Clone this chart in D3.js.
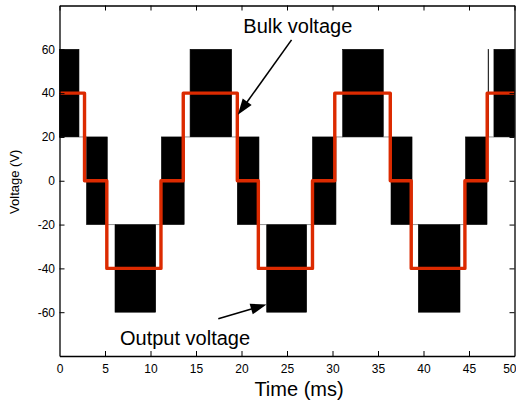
<!DOCTYPE html>
<html>
<head>
<meta charset="utf-8">
<script src="https://cdn.jsdelivr.net/npm/d3@7"></script>
<style>
  html, body { margin: 0; padding: 0; background: #fff; }
  svg { display: block; }
  text { font-family: "Liberation Sans", Arial, Helvetica, sans-serif; fill: #000; }
</style>
</head>
<body>
<svg id="chart" width="516" height="404"></svg>
<script>
// Output voltage envelope: each segment spans [start, end] ms and swings between low and high (V).
// Segments where low == high are the flat stretches between switching bursts.
const outputStart = [0, 2.14, 2.97, 5.25, 6.1, 10.57, 11.2, 13.7, 14.35, 18.92, 19.54, 21.92, 22.77, 27.16, 27.8, 30.38, 31.12, 35.58, 36.43, 38.74, 39.43, 44.01, 44.62, 46.98, 47.1, 47.16, 47.74];
const outputEnd   = [2.14, 2.97, 5.25, 6.1, 10.57, 11.2, 13.7, 14.35, 18.92, 19.54, 21.92, 22.77, 27.16, 27.8, 30.38, 31.12, 35.58, 36.43, 38.74, 39.43, 44.01, 44.62, 46.98, 47.1, 47.16, 47.74, 50];
const outputLow   = [20, 20, -20, -20, -60, -20, -20, 20, 20, 20, -20, -20, -60, -20, -20, 20, 20, 20, -20, -20, -60, -20, -20, 20, 20, 20, 20];
const outputHigh  = [60, 20, 20, -20, -20, -20, 20, 20, 60, 20, 20, -20, -20, -20, 20, 20, 60, 20, 20, -20, -20, -20, 20, 20, 60, 20, 60];

// Bulk voltage: step levels (V) holding from each switch time (ms) to the next.
const bulkTimes  = [0, 2.75, 5.2, 11.15, 13.6, 19.54, 21.85, 27.8, 30.25, 36.35, 38.65, 44.55, 47.0, 50];
const bulkLevels = [40, 0, -40, 0, 40, 0, -40, 0, 40, 0, -40, 0, 40, 40];

// Axis ticks
const timeTicks = [0, 5, 10, 15, 20, 25, 30, 35, 40, 45, 50];
const voltTicks = [-60, -40, -20, 0, 20, 40, 60];

// Annotations: label position and arrow (from -> tip) in data units
const annoText  = ["Bulk voltage", "Output voltage"];
const annoTextT = [20.2, 6.65];
const annoTextV = [67.6, -74.8];
const arrowFromT = [25.5, 17.45];
const arrowFromV = [64.3, -63.0];
const arrowTipT  = [19.6, 22.75];
const arrowTipV  = [30.1, -56.5];

const svg = d3.select("#chart");
const plot = { left: 59.5, right: 514.5, top: 5.5, bottom: 356 };

const x = d3.scaleLinear().domain([0, 50]).range([plot.left, plot.right]);
const y = d3.scaleLinear().domain([-80, 80]).range([plot.bottom, plot.top]);

const segments = outputStart.map((s, i) => ({
  start: s, end: outputEnd[i], low: outputLow[i], high: outputHigh[i]
}));

// Switching bursts
svg.append("g")
  .selectAll("rect")
  .data(segments.filter(d => d.high > d.low))
  .join("rect")
  .attr("x", d => x(d.start))
  .attr("width", d => x(d.end) - x(d.start))
  .attr("y", d => y(d.high))
  .attr("height", d => y(d.low) - y(d.high))
  .attr("fill", "#000")
  .attr("stroke", "#000")
  .attr("stroke-width", 0.6);

// Flat stretches between bursts
svg.append("g")
  .selectAll("line")
  .data(segments.filter(d => d.high === d.low))
  .join("line")
  .attr("x1", d => x(d.start))
  .attr("x2", d => x(d.end))
  .attr("y1", d => y(d.low))
  .attr("y2", d => y(d.low))
  .attr("stroke", "#777")
  .attr("stroke-width", 0.8);

// Bulk voltage step line
const bulk = bulkTimes.map((t, i) => [t, bulkLevels[i]]);
svg.append("path")
  .datum(bulk)
  .attr("fill", "none")
  .attr("stroke", "#dc2a00")
  .attr("stroke-width", 3.4)
  .attr("stroke-linejoin", "round")
  .attr("d", d3.line().x(d => x(d[0])).y(d => y(d[1])).curve(d3.curveStepAfter));

// Axes: ticks point inward on all four sides; plain hyphen for negatives
const fontSize = "12px";
const plain = d => String(d);
const gBottom = svg.append("g")
  .attr("transform", `translate(0,${plot.bottom})`)
  .call(d3.axisBottom(x).tickValues(timeTicks).tickSize(-5).tickSizeOuter(0).tickPadding(8).tickFormat(plain));
const gTop = svg.append("g")
  .attr("transform", `translate(0,${plot.top})`)
  .call(d3.axisTop(x).tickValues(timeTicks).tickSize(-5).tickSizeOuter(0).tickFormat(""));
const gLeft = svg.append("g")
  .attr("transform", `translate(${plot.left},0)`)
  .call(d3.axisLeft(y).tickValues(voltTicks).tickSize(-5).tickSizeOuter(0).tickPadding(4.5).tickFormat(plain));
const gRight = svg.append("g")
  .attr("transform", `translate(${plot.right},0)`)
  .call(d3.axisRight(y).tickValues(voltTicks).tickSize(-5).tickSizeOuter(0).tickFormat(""));

[gBottom, gTop, gLeft, gRight].forEach(g => {
  g.attr("font-family", null).attr("font-size", fontSize);
  g.select(".domain").attr("stroke", "#000").attr("stroke-width", 1.3);
  g.selectAll(".tick line").attr("stroke", "#000").attr("stroke-width", 1);
  g.selectAll(".tick text").attr("fill", "#000");
});
gBottom.selectAll(".tick").filter(d => d === 0 || d === 50).select("line").remove();
// Keep the last time label inside the frame edge
gBottom.selectAll(".tick").filter(d => d === 50).select("text")
  .attr("text-anchor", "end")
  .attr("x", 516 - plot.right);

// Axis titles
svg.append("text")
  .attr("x", 299)
  .attr("y", 396)
  .attr("text-anchor", "middle")
  .attr("font-size", "20px")
  .text("Time (ms)");

svg.append("text")
  .attr("transform", `translate(18.5,${(plot.top + plot.bottom) / 2 + 1}) rotate(-90)`)
  .attr("text-anchor", "middle")
  .attr("font-size", "13px")
  .text("Voltage (V)");

// Annotation labels with arrows
const anno = annoText.map((t, i) => ({
  text: t, tx: annoTextT[i], tv: annoTextV[i],
  fx: arrowFromT[i], fv: arrowFromV[i], px: arrowTipT[i], pv: arrowTipV[i]
}));

svg.append("g").selectAll("text")
  .data(anno)
  .join("text")
  .attr("x", d => x(d.tx))
  .attr("y", d => y(d.tv))
  .attr("font-size", "20px")
  .text(d => d.text);

const headLen = 16, headHalf = 5.5;
const arrows = svg.append("g");
anno.forEach(d => {
  const x0 = x(d.fx), y0 = y(d.fv), x1 = x(d.px), y1 = y(d.pv);
  const len = Math.hypot(x1 - x0, y1 - y0);
  const ux = (x1 - x0) / len, uy = (y1 - y0) / len;
  const bx = x1 - ux * headLen, by = y1 - uy * headLen;
  arrows.append("line")
    .attr("x1", x0).attr("y1", y0)
    .attr("x2", bx + ux * 2).attr("y2", by + uy * 2)
    .attr("stroke", "#000").attr("stroke-width", 1.6);
  arrows.append("path")
    .attr("d", `M${x1},${y1}L${bx - uy * headHalf},${by + ux * headHalf}L${bx + uy * headHalf},${by - ux * headHalf}Z`)
    .attr("fill", "#000");
});
</script>
</body>
</html>
